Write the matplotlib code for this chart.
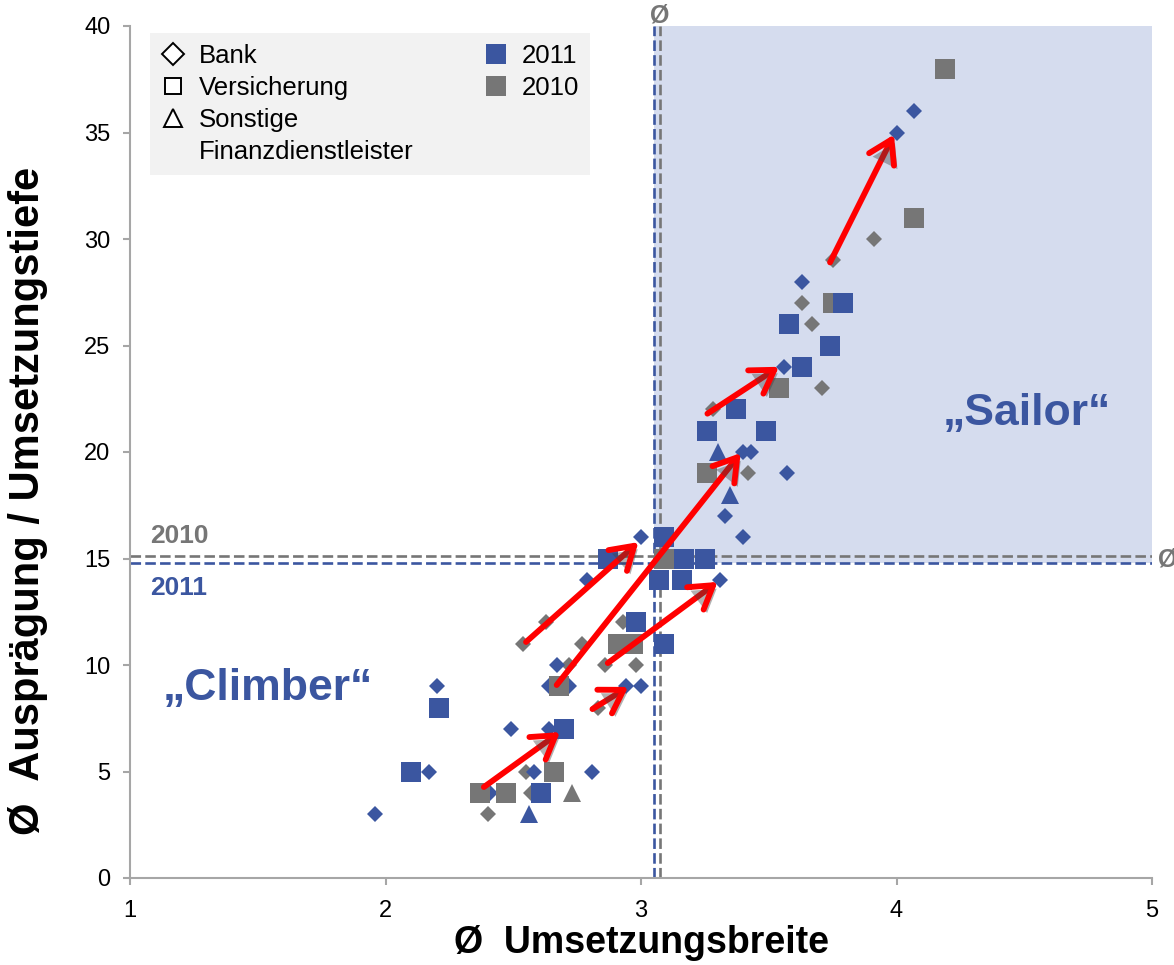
import numpy as np
import matplotlib
matplotlib.use("Agg")
import matplotlib.pyplot as plt
from matplotlib.lines import Line2D
import matplotlib.patheffects as pe

plt.rcParams['font.family'] = ['Liberation Sans', 'DejaVu Sans']

# data
bank_2011_x = [1.96, 2.17, 2.20, 2.41, 2.49, 2.58, 2.64, 2.64, 2.67, 2.72, 2.79, 2.81, 2.94,
               3.00, 3.00, 3.31, 3.33, 3.40, 3.40, 3.43, 3.56, 3.57, 3.63, 4.00, 4.07]
bank_2011_y = [3, 5, 9, 4, 7, 5, 7, 9, 10, 9, 14, 5, 9, 9, 16, 14, 17, 16, 20, 20, 24, 19, 28, 35, 36]

bank_2010_x = [2.40, 2.55, 2.57, 2.54, 2.63, 2.72, 2.77, 2.83, 2.86, 2.93, 2.98, 3.28, 3.42,
               3.63, 3.67, 3.71, 3.75, 3.91]
bank_2010_y = [3, 5, 4, 11, 12, 10, 11, 8, 10, 12, 10, 22, 19, 27, 26, 23, 29, 30]

vers_2011_x = [2.10, 2.21, 2.61, 2.70, 2.87, 2.98, 3.07, 3.09, 3.09, 3.16, 3.17, 3.25, 3.26,
               3.37, 3.49, 3.58, 3.63, 3.74, 3.79]
vers_2011_y = [5, 8, 4, 7, 15, 12, 14, 16, 11, 14, 15, 15, 21, 22, 21, 26, 24, 25, 27]

vers_2010_x = [2.37, 2.47, 2.66, 2.68, 2.91, 2.97, 3.09, 3.26, 3.54, 3.75, 4.07, 4.19]
vers_2010_y = [4, 4, 5, 9, 11, 11, 15, 19, 23, 27, 31, 38]

sonst_2011_x = [2.56, 3.30, 3.35]
sonst_2011_y = [3, 20, 18]
sonst_2010_x = [2.73]
sonst_2010_y = [4]

# movement arrows 2010 -> 2011
arrow_x0 = [2.385, 2.81, 2.55, 2.67, 2.87, 3.26, 3.74]
arrow_y0 = [4.27, 7.93, 11.08, 9.06, 10.09, 21.8, 28.9]
arrow_x1 = [2.683, 2.95, 2.99, 3.39, 3.30, 3.54, 3.99]
arrow_y1 = [6.85, 8.97, 15.77, 19.95, 13.9, 24.0, 34.9]

# averages
mean_x_2011 = 3.051
mean_x_2010 = 3.074
mean_y_2011 = 14.79
mean_y_2010 = 15.12

blue = '#3B56A0'
gray = '#767676'

fig = plt.figure(figsize=(11.74, 9.65), dpi=100)
ax = fig.add_axes([130/1174, 1-878/965, 1022/1174, 852/965])
ax.set_xlim(1, 5)
ax.set_ylim(0, 40)

# "Sailor" quadrant
ax.fill_between([mean_x_2011, 5], mean_y_2011, 40, color='#D5DCEE', lw=0, zorder=0)

# dashed average lines
dash = dict(lw=1.9, dashes=(4, 1.6), zorder=1)
ax.axvline(mean_x_2011, color=blue, **dash)
ax.axvline(mean_x_2010, color=gray, **dash)
ax.axhline(mean_y_2010, color=gray, **dash)
ax.axhline(mean_y_2011, color=blue, **dash)

# points
ax.plot(bank_2010_x, bank_2010_y, 'D', color=gray, ms=8.5, mew=0, zorder=3)
ax.plot(bank_2011_x, bank_2011_y, 'D', color=blue, ms=8.5, mew=0, zorder=3)
ax.plot(sonst_2010_x, sonst_2010_y, '^', color=gray, ms=13, mew=0, zorder=4)
ax.plot(sonst_2011_x, sonst_2011_y, '^', color=blue, ms=13, mew=0, zorder=4)
ax.plot(vers_2010_x, vers_2010_y, 's', color=gray, ms=13.7, mew=0, zorder=5)
ax.plot(vers_2011_x, vers_2011_y, 's', color=blue, ms=13.7, mew=0, zorder=5)

# arrows
for x0, y0, x1, y1 in zip(arrow_x0, arrow_y0, arrow_x1, arrow_y1):
    ax.annotate('', xy=(x1, y1), xytext=(x0, y0),
                arrowprops=dict(arrowstyle='->, head_length=0.8, head_width=0.5',
                                mutation_scale=20, color='#FF0000', lw=4.2,
                                shrinkA=0, shrinkB=0, capstyle='round', joinstyle='round',
                                path_effects=[pe.withSimplePatchShadow(offset=(2.5, -2.5),
                                                                       shadow_rgbFace='#404040',
                                                                       alpha=0.4)]),
                zorder=6)

# quadrant labels
ax.text(4.51, 21.8, '„Sailor“', color=blue, fontsize=32, fontweight='bold',
        ha='center', va='center')
ax.text(1.54, 8.9, '„Climber“', color=blue, fontsize=32, fontweight='bold',
        ha='center', va='center')
ax.text(1.078, 16.06, '2010', color=gray, fontsize=19, fontweight='bold', va='center')
ax.text(1.078, 13.6, '2011', color=blue, fontsize=19, fontweight='bold', va='center')
ax.text(mean_x_2010, 40.5, 'Ø', color=gray, fontsize=18, fontweight='bold',
        ha='center', va='center', clip_on=False)
ax.text(5.06, 14.93, 'Ø', color=gray, fontsize=18, fontweight='bold',
        ha='center', va='center', clip_on=False)

# legend
handles = [
    Line2D([], [], ls='none', marker='D', ms=11, mfc='white', mec='black', mew=1.4),
    Line2D([], [], ls='none', marker='s', ms=12, mfc='white', mec='black', mew=1.4),
    Line2D([], [], ls='none', marker='^', ms=13, mfc='white', mec='black', mew=1.4),
    Line2D([], [], ls='none'),
    Line2D([], [], ls='none', marker='s', ms=15, color=blue, mew=0),
    Line2D([], [], ls='none', marker='s', ms=15, color=gray, mew=0),
    Line2D([], [], ls='none'),
    Line2D([], [], ls='none'),
]
labels = ['Bank', 'Versicherung', 'Sonstige', 'Finanzdienstleister', '2011', '2010', ' ', ' ']
leg = ax.legend(handles, labels, ncol=2, loc='upper left', bbox_to_anchor=(0.0196, 0.992),
                borderaxespad=0, fontsize=18.5, frameon=True, fancybox=False,
                handlelength=0.9, handletextpad=0.55, columnspacing=2.75, labelspacing=0.3,
                borderpad=0.45)
leg.get_frame().set_facecolor('#F2F2F2')
leg.get_frame().set_edgecolor('none')
leg.get_frame().set_alpha(1)

# axes styling
for s in ['top', 'right']:
    ax.spines[s].set_visible(False)
for s in ['left', 'bottom']:
    ax.spines[s].set_color('#A6A6A6')
    ax.spines[s].set_linewidth(1.5)
ax.set_xticks([1, 2, 3, 4, 5])
ax.set_yticks(np.arange(0, 41, 5))
ax.tick_params(direction='out', length=5, width=1.5, color='#A6A6A6',
               labelsize=17, labelcolor='black')
ax.tick_params(axis='y', pad=9)
ax.tick_params(axis='x', pad=11)
ax.set_xlabel('Ø  Umsetzungsbreite', fontsize=27, fontweight='bold', labelpad=2)
ax.set_ylabel('Ø  Ausprägung / Umsetzungstiefe', fontsize=30, fontweight='bold')
ax.yaxis.set_label_coords(-0.080, 0.4425)

fig.savefig('out.png', dpi=100)
